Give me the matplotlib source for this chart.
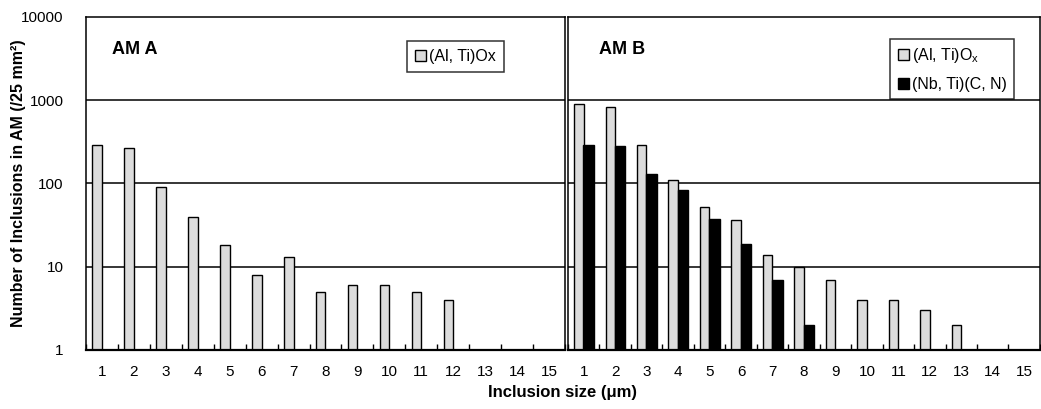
import numpy as np
import matplotlib.pyplot as plt
from matplotlib.patches import Patch

plt.rcParams['font.family'] = ['Liberation Sans', 'DejaVu Sans']

# inclusion size classes (um)
sizes = list(range(1, 16))

# AM A, (Al, Ti)Ox counts per 25 mm2 (0 = none)
am_a_oxide = [290, 265, 90, 40, 18, 8, 13, 5, 6, 6, 5, 4, 0, 0, 0]

# AM B
am_b_oxide = [900, 830, 290, 110, 52, 36, 14, 10, 7, 4, 4, 3, 2, 0, 0]
am_b_carbo = [290, 285, 130, 83, 37, 19, 7, 2, 0, 0, 0, 0, 0, 0, 0]

grey = '#dcdcdc'
w = 0.3

fig = plt.figure(figsize=(10.41, 4.09), dpi=100)
axA = fig.add_axes([0.0826, 0.1443, 0.4601, 0.8142])
axB = fig.add_axes([0.5456, 0.1443, 0.4534, 0.8142])


def style(ax, show_y):
    ax.set_yscale('log')
    ax.set_ylim(1, 10000)
    ax.set_xlim(0.5, 15.5)
    ax.set_xticks(sizes)
    ax.set_xticklabels([str(s) for s in sizes], fontsize=11)
    ax.set_xticks(np.arange(0.5, 15.6, 1), minor=True)
    ax.tick_params(axis='x', which='major', length=0, pad=11)
    ax.tick_params(axis='x', which='minor', direction='in', length=4, width=1)
    ax.set_yticks([1, 10, 100, 1000, 10000])
    ax.set_yticks([], minor=True)
    ax.tick_params(axis='y', which='major', length=0, labelsize=11, pad=16)
    if show_y:
        ax.set_yticklabels(['1', '10', '100', '1000', '10000'])
    else:
        ax.set_yticklabels([])
    for y in [10, 100, 1000]:
        ax.axhline(y, color='black', lw=1.1, zorder=0)
    for s in ax.spines.values():
        s.set_linewidth(1.1)
    ax.spines['bottom'].set_linewidth(1.6)


x = np.array(sizes, dtype=float)

a = np.array(am_a_oxide, dtype=float)
m = a > 0
axA.bar(x[m] - w / 2, a[m] - 1, width=w, bottom=1, color=grey, edgecolor='black', lw=1, zorder=2)
style(axA, True)
axA.text(0.055, 0.89, 'AM A', transform=axA.transAxes, fontsize=13, fontweight='bold')
axA.legend(handles=[Patch(facecolor=grey, edgecolor='black', label='(Al, Ti)Ox')],
           loc='upper right', bbox_to_anchor=(0.889, 0.952), fontsize=11.5, frameon=True,
           fancybox=False, edgecolor='black', handlelength=0.7, handleheight=0.7,
           handletextpad=0.2, borderpad=0.5).get_frame().set_linewidth(1.1)

bo = np.array(am_b_oxide, dtype=float)
bc = np.array(am_b_carbo, dtype=float)
mo = bo > 0
mc = bc > 0
axB.bar(x[mo] - w * 0.52, bo[mo] - 1, width=w, bottom=1, color=grey, edgecolor='black', lw=1, zorder=2)
axB.bar(x[mc] + w * 0.52, bc[mc] - 1, width=w * 1.1, bottom=1, color='black', edgecolor='black', lw=1, zorder=2)
style(axB, False)
axB.text(0.065, 0.89, 'AM B', transform=axB.transAxes, fontsize=13, fontweight='bold')
axB.legend(handles=[Patch(facecolor=grey, edgecolor='black', label='(Al, Ti)O$_\\mathregular{x}$'),
                    Patch(facecolor='black', edgecolor='black', label='(Nb, Ti)(C, N)')],
           loc='upper right', bbox_to_anchor=(0.962, 0.958), fontsize=11.5, frameon=True,
           fancybox=False, edgecolor='black', handlelength=0.7, handleheight=0.7,
           handletextpad=0.2, borderpad=0.45, labelspacing=0.75).get_frame().set_linewidth(1.1)

fig.text(0.018, 0.553, 'Number of Inclusions in AM (/25 mm²)', rotation=90,
         ha='center', va='center', fontsize=11.5, fontweight='bold')
fig.text(0.54, 0.04, 'Inclusion size (μm)', ha='center', va='center',
         fontsize=12, fontweight='bold')

fig.savefig('out.png', dpi=100)
